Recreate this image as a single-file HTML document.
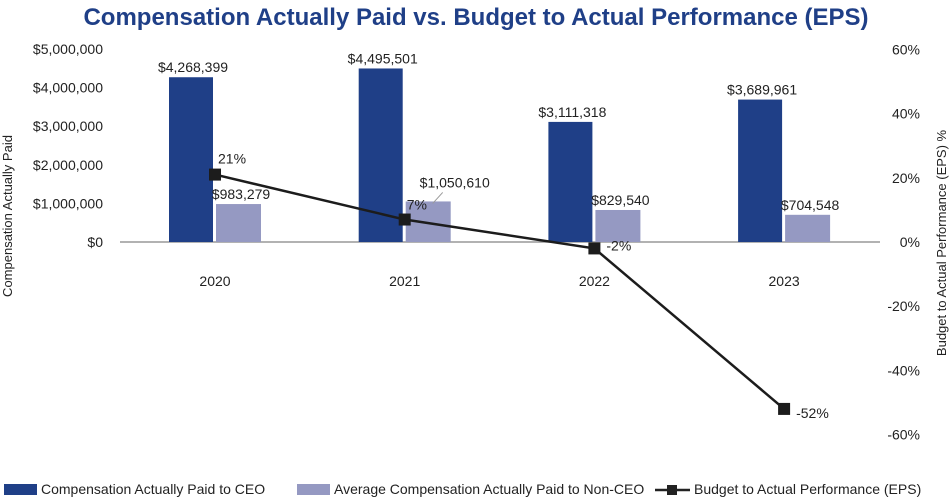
<!DOCTYPE html>
<html><head><meta charset="utf-8"><style>
body{margin:0;background:#fff;width:952px;height:499px;overflow:hidden}
svg{display:block;font-family:"Liberation Sans",sans-serif}
</style></head><body>
<svg id="c" width="952" height="499">
<text x="476" y="25" text-anchor="middle" font-size="24" font-weight="bold" fill="#1f3f87">Compensation Actually Paid vs. Budget to Actual Performance (EPS)</text>
<text transform="translate(12,216) rotate(-90)" text-anchor="middle" font-size="13" fill="#222">Compensation Actually Paid</text>
<text transform="translate(946,243) rotate(-90)" text-anchor="middle" font-size="13" fill="#222">Budget to Actual Performance (EPS) %</text>
<g id="g"></g>
<g font-size="14" fill="#222">
<rect x="4" y="484" width="33" height="11" fill="#1f3f87"/>
<text x="41" y="494">Compensation Actually Paid to CEO</text>
<rect x="297" y="484" width="33" height="11" fill="#9599c2"/>
<text x="334" y="494">Average Compensation Actually Paid to Non-CEO</text>
<line x1="655" y1="490" x2="690" y2="490" stroke="#222" stroke-width="2.5"/>
<rect x="667" y="485" width="10" height="10" fill="#222"/>
<text x="694" y="494">Budget to Actual Performance (EPS)</text>
</g>
</svg>
<script>
const categories=["2020","2021","2022","2023"];
const ceoValues=[4268399,4495501,3111318,3689961];
const nonCeoValues=[983279,1050610,829540,704548];
const epsValues=[21,7,-2,-52];
const leftTicks=[0,1000000,2000000,3000000,4000000,5000000];
const rightTicks=[60,40,20,0,-20,-40,-60];
const NS="http://www.w3.org/2000/svg";
const g=document.getElementById('g');
function yL(v){return 242-v/1000000*38.6;}
function yR(v){return 242-v/20*64.2;}
function xC(i){return 215+i*189.7;}
function el(t,a,txt){const e=document.createElementNS(NS,t);for(const k in a)e.setAttribute(k,a[k]);if(txt!=null)e.textContent=txt;g.appendChild(e);return e;}
const fmt=v=>'$'+v.toLocaleString('en-US');
leftTicks.forEach(v=>{const t=el('text',{x:103,y:yL(v)+5,'text-anchor':'end','font-size':14,fill:'#222'},fmt(v));

});
rightTicks.forEach(v=>{const t=el('text',{x:920,y:yR(v)+5,'text-anchor':'end','font-size':14,fill:'#222'},v+'%');

});
const ax=el('line',{x1:120,y1:242,x2:880,y2:242,stroke:'#999','stroke-width':1.5});


categories.forEach((c,i)=>{
 const x=xC(i);
 const b1=el('rect',{x:x-46,y:yL(ceoValues[i]),width:44,height:242-yL(ceoValues[i]),fill:'#1f3f87'});
 
 
 const b2=el('rect',{x:x+1,y:yL(nonCeoValues[i]),width:45,height:242-yL(nonCeoValues[i]),fill:'#9599c2'});
 
 
 const l1=el('text',{x:x-22,y:yL(ceoValues[i])-5,'text-anchor':'middle','font-size':14,fill:'#222'},fmt(ceoValues[i]));
 
 
 const lead=(i==1);
 const l2=el('text',{x:x+(lead?50:26),y:yL(nonCeoValues[i])-(lead?-12:5)-(lead?26:0),'text-anchor':'middle','font-size':14,fill:'#222'},fmt(nonCeoValues[i]));
 
 
 if(lead){const ll=el('line',{x1:x+28,y1:yL(nonCeoValues[i])+2,x2:x+38,y2:yL(nonCeoValues[i])-9,stroke:'#999','stroke-width':1});
 
 }
 const xl=el('text',{x:x,y:286,'text-anchor':'middle','font-size':14,fill:'#222'},c);
 
 
});
let d='';epsValues.forEach((v,i)=>{d+=(i?'L':'M')+xC(i)+','+yR(v);});
const ln=el('path',{d:d,stroke:'#1c1c1c','stroke-width':2.5,fill:'none'});


epsValues.forEach((v,i)=>{
 const m=el('rect',{x:xC(i)-6,y:yR(v)-6,width:12,height:12,fill:'#1c1c1c'});
 
 
 const off=[[3,-16],[2,-15],[12,-3],[12,4]][i];
 const t=el('text',{x:xC(i)+off[0],y:yR(v)+off[1]+5,'font-size':14,fill:'#222'},v+'%');
 
 
});
</script>
</body></html>
